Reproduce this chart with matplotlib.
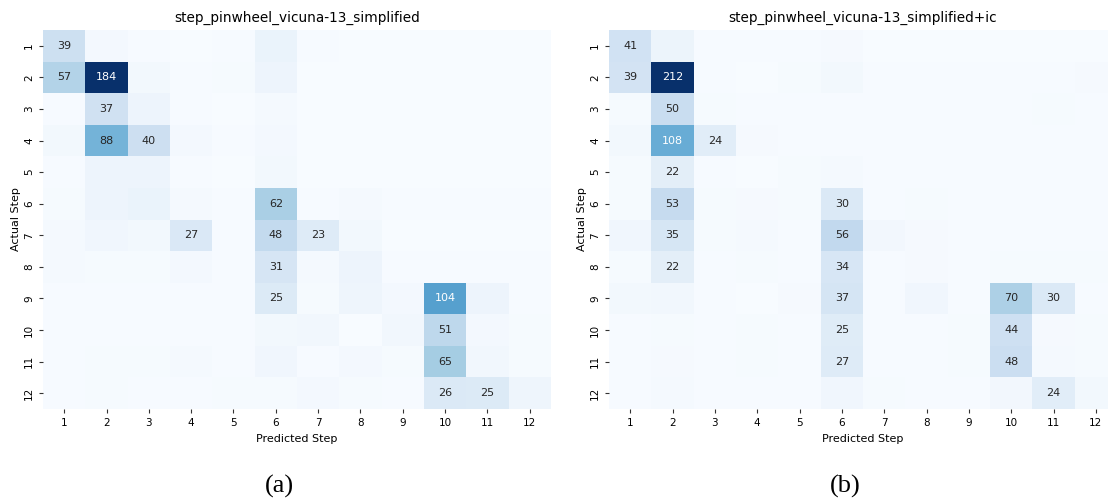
import numpy as np
import matplotlib
matplotlib.use("Agg")
import matplotlib.pyplot as plt
import seaborn as sns

steps = [str(i) for i in range(1, 13)]

title_a = "step_pinwheel_vicuna-13_simplified"
title_b = "step_pinwheel_vicuna-13_simplified+ic"

# rows: actual step 1..12, columns: predicted step 1..12
cm_simplified = np.array([
    [39,   4, 1, 0, 1, 12, 1, 0, 0,   0,  0, 0],
    [57, 184, 5, 1, 2, 10, 0, 0, 0,   0,  0, 0],
    [ 1,  37, 10, 1, 0, 3, 0, 0, 0,   0,  0, 0],
    [ 5,  88, 40, 4, 1, 4, 0, 0, 0,   0,  0, 0],
    [ 1,  10, 10, 1, 0, 5, 0, 0, 0,   0,  0, 0],
    [ 2,  10, 12, 3, 1, 62, 1, 3, 1,  1,  1, 1],
    [ 3,   7,  5, 27, 1, 48, 23, 5, 0, 0,  0, 0],
    [ 3,   2,  2, 4, 1, 31, 3, 10, 1,  1,  1, 1],
    [ 1,   1,  1, 1, 1, 25, 2, 8, 4, 104, 10, 1],
    [ 1,   1,  1, 1, 1,  5, 6, 0, 6,  51,  4, 2],
    [ 1,   2,  2, 3, 1,  7, 1, 4, 2,  65,  6, 2],
    [ 1,   2,  1, 1, 2,  2, 4, 2, 1,  26, 25, 8],
])

cm_simplified_ic = np.array([
    [41,  12, 1, 1, 1,  3, 0, 0, 0,  0,  0, 0],
    [39, 212, 1, 0, 2,  5, 1, 1, 1,  1,  1, 3],
    [ 2,  50, 2, 1, 1,  1, 1, 1, 1,  1,  2, 1],
    [ 5, 108, 24, 3, 1, 1, 1, 1, 1,  1,  1, 1],
    [ 2,  22, 1, 0, 2,  4, 1, 1, 1,  1,  1, 1],
    [ 2,  53, 2, 3, 2, 30, 1, 2, 1,  1,  1, 1],
    [ 8,  35, 2, 4, 1, 56, 6, 3, 1,  1,  1, 1],
    [ 2,  22, 1, 2, 1, 34, 1, 3, 1,  2,  2, 2],
    [ 5,   7, 1, 0, 3, 37, 1, 8, 1, 70, 30, 1],
    [ 1,   2, 1, 2, 1, 25, 1, 1, 2, 44,  3, 2],
    [ 1,   3, 1, 2, 1, 27, 1, 1, 2, 48,  4, 2],
    [ 1,   4, 1, 1, 1,  8, 2, 1, 1,  6, 24, 5],
])

fig = plt.figure(figsize=(11.08, 5.01), dpi=100)
ax_a = fig.add_axes([43 / 1108, 1 - 409 / 501, 508 / 1108, 379 / 501])
ax_b = fig.add_axes([609 / 1108, 1 - 409 / 501, 508 / 1108, 379 / 501])


def draw(ax, cm, title):
    labels = np.where(cm >= 20, cm.astype(str), "")
    sns.heatmap(cm, ax=ax, cmap="Blues", cbar=False, annot=labels, fmt="",
                annot_kws={"fontsize": 8},
                xticklabels=steps, yticklabels=steps)
    ax.set_title(title, fontsize=9.8, pad=6)
    ax.set_xlabel("Predicted Step", fontsize=8)
    ax.set_ylabel("Actual Step", fontsize=8, labelpad=2)
    ax.tick_params(labelsize=7.5, length=3, width=0.8, color="#333333")


draw(ax_a, cm_simplified, title_a)
draw(ax_b, cm_simplified_ic, title_b)

fig.text(279 / 1108, 1 - 486 / 501, "(a)", ha="center", va="center",
         fontsize=19, family="Liberation Serif")
fig.text(845 / 1108, 1 - 486 / 501, "(b)", ha="center", va="center",
         fontsize=19, family="Liberation Serif")

fig.savefig("out.png", dpi=100)
